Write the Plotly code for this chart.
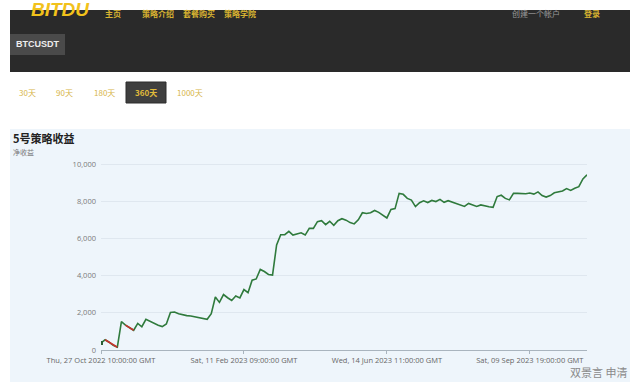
import plotly.graph_objects as go

# ---- data ----
point_index = list(range(120))
net_profit = [
    380, 550, 420, 250, 150, 1520, 1340, 1200, 1060, 1430,
    1250, 1650, 1540, 1420, 1330, 1260, 1400, 2020, 2040, 1950,
    1880, 1850, 1830, 1790, 1720, 1690, 1650, 1950, 2850, 2560,
    2980, 2810, 2660, 2900, 2800, 3250, 3080, 3750, 3820, 4330,
    4220, 4060, 4030, 5650, 6200, 6200, 6380, 6180, 6240, 6300,
    6180, 6540, 6540, 6900, 6950, 6740, 6920, 6700, 6950, 7060,
    6980, 6850, 6780, 7000, 7380, 7340, 7380, 7500, 7400, 7250,
    7100, 7560, 7600, 8420, 8370, 8150, 8060, 7710, 7920, 8020,
    7930, 8040, 7980, 8100, 7940, 8030, 7960, 7900, 7820, 7720,
    7880, 7800, 7720, 7800, 7740, 7700, 7670, 8250, 8320, 8150,
    8070, 8420, 8420, 8410, 8400, 8440, 8380, 8500, 8300, 8220,
    8300, 8450, 8500, 8550, 8680, 8580, 8700, 8780, 9200, 9420,
]
red_ranges = [(1, 4), (6, 8)]  # drawdown segments drawn in red
tick_positions = [0, 35, 70, 105]
tick_labels = [
    "Thu, 27 Oct 2022 10:00:00 GMT",
    "Sat, 11 Feb 2023 09:00:00 GMT",
    "Wed, 14 Jun 2023 11:00:00 GMT",
    "Sat, 09 Sep 2023 19:00:00 GMT",
]
period_tabs = ["30天", "90天", "180天", "360天", "1000天"]
nav_items = ["主页", "策略介绍", "套餐购买", "策略学院"]

W, H = 640, 392
def px(x):
    return x / W
def py(y):
    return 1 - y / H

red_vals = [None] * len(net_profit)
for a, b in red_ranges:
    for i in range(a, b + 1):
        red_vals[i] = net_profit[i]

fig = go.Figure()
fig.add_trace(go.Scatter(x=point_index, y=net_profit, mode="lines",
                         line=dict(color="#2f7a3c", width=1.6), hoverinfo="skip"))
fig.add_trace(go.Scatter(x=point_index, y=red_vals, mode="lines",
                         line=dict(color="#c8322d", width=1.6), hoverinfo="skip"))
fig.add_trace(go.Scatter(x=[point_index[0]], y=[net_profit[0]], mode="markers",
                         marker=dict(color="#2a5e33", size=4, symbol="square"), hoverinfo="skip"))

shapes = [
    dict(type="rect", xref="paper", yref="paper", x0=px(10), x1=px(630), y0=py(72), y1=py(10),
         fillcolor="#2a2a2a", line_width=0, layer="below"),
    dict(type="rect", xref="paper", yref="paper", x0=px(10), x1=px(65), y0=py(55), y1=py(34),
         fillcolor="#4a4a4a", line_width=0, layer="below"),
    dict(type="rect", xref="paper", yref="paper", x0=px(126), x1=px(166), y0=py(103), y1=py(82),
         fillcolor="#3f3f3f", line=dict(color="#2c2c2c", width=1), layer="below"),
    dict(type="rect", xref="paper", yref="paper", x0=px(10), x1=px(630), y0=py(382), y1=py(129),
         fillcolor="#eef5fb", line_width=0, layer="below"),
]

ann = []
ann.append(dict(text="<b><i>BITDU</i></b>", x=px(29), y=py(10), xanchor="left", yanchor="middle",
                font=dict(size=19, color="#f2c21b", family="Liberation Sans")))
nav_x = [103, 140, 181, 222]
for t, xx in zip(nav_items, nav_x):
    ann.append(dict(text="<b>%s</b>" % t, x=px(xx), y=py(13), xanchor="left", yanchor="middle",
                    font=dict(size=8, color="#d8b331", family="Noto Sans CJK SC")))
ann.append(dict(text="创建一个帐户", x=px(510), y=py(13), xanchor="left", yanchor="middle",
                font=dict(size=8, color="#9a9a9a", family="Noto Sans CJK SC")))
ann.append(dict(text="<b>登录</b>", x=px(582), y=py(13), xanchor="left", yanchor="middle",
                font=dict(size=8, color="#d8b331", family="Noto Sans CJK SC")))
ann.append(dict(text="<b>BTCUSDT</b>", x=px(14), y=py(44.5), xanchor="left", yanchor="middle",
                font=dict(size=9, color="#eeeeee", family="Liberation Sans")))
tab_x = [27, 64, 104, 146, 190]
for i, (t, xx) in enumerate(zip(period_tabs, tab_x)):
    ann.append(dict(text=("<b>%s</b>" % t) if i == 3 else t, x=px(xx), y=py(92.5),
                    xanchor="center", yanchor="middle",
                    font=dict(size=8, color="#e0bb3a" if i == 3 else "#d7b548",
                              family="Noto Sans CJK SC")))
ann.append(dict(text="<b>5号策略收益</b>", x=px(11), y=py(138), xanchor="left", yanchor="middle",
                font=dict(size=11, color="#222222", family="Noto Sans CJK SC")))
ann.append(dict(text="净收益", x=px(11), y=py(152), xanchor="left", yanchor="middle",
                font=dict(size=7, color="#777777", family="Noto Sans CJK SC")))
ann.append(dict(text="双景言 申清", x=px(629), y=py(372), xanchor="right", yanchor="middle",
                font=dict(size=11, color="#8a8a8a", family="Noto Sans CJK SC")))
for a in ann:
    a.update(xref="paper", yref="paper", showarrow=False)

fig.update_layout(
    width=W, height=H,
    margin=dict(l=0, r=0, t=0, b=0, autoexpand=False),
    paper_bgcolor="#ffffff",
    plot_bgcolor="rgba(0,0,0,0)",
    showlegend=False,
    shapes=shapes,
    annotations=ann,
    xaxis=dict(
        domain=[px(101), px(587)], range=[0, 119], automargin=False,
        tickmode="array", tickvals=tick_positions, ticktext=tick_labels,
        showgrid=False, zeroline=False,
        showline=True, linecolor="#a9b4be", linewidth=1,
        ticks="outside", ticklen=3, tickcolor="#a9b4be",
        tickfont=dict(size=7.5, color="#666666", family="Open Sans"),
    ),
    yaxis=dict(
        domain=[py(350), py(350 - 186 * 1.05)], range=[0, 10500], automargin=False,
        tickmode="array", tickvals=[0, 2000, 4000, 6000, 8000, 10000],
        tickformat=",", showgrid=True, gridcolor="#dfe7ef", gridwidth=1,
        zeroline=False, showline=False,
        tickfont=dict(size=7.5, color="#7a7a7a", family="Open Sans"),
        ticklabelstandoff=4,
    ),
)

fig.write_html("out.html")
